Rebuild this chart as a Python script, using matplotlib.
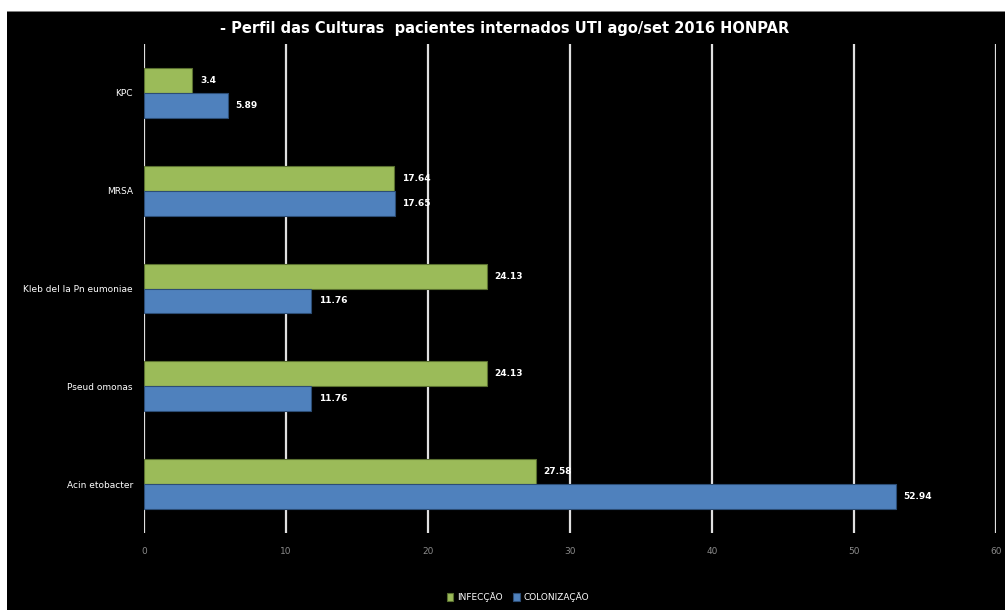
import matplotlib
matplotlib.use("Agg")
import matplotlib.pyplot as plt
import numpy as np
from matplotlib.patches import Rectangle

categories = ["KPC", "MRSA", "Klebdeila Pneumoniae", "Pseudomonas", "Acinetobacter"]
cat_labels = ["KPC", "MRSA", "Kleb del la Pn eumoniae", "Pseud omonas", "Acin etobacter"]
infeccao = [3.4, 17.64, 24.13, 24.13, 27.58]
colonizacao = [5.89, 17.65, 11.76, 11.76, 52.94]
infeccao_labels = ["3.4", "17.64", "24.13", "24.13", "27.58"]
colonizacao_labels = ["5.89", "17.65", "11.76", "11.76", "52.94"]
xticks = [0, 10, 20, 30, 40, 50, 60]

green = "#9BBB59"
blue = "#4F81BD"

fig = plt.figure(figsize=(10.05, 6.1), dpi=100)
fig.patch.set_facecolor("white")

# black chart background (separate axes underneath)
bg = fig.add_axes([0, 0, 1, 1], zorder=-5)
bg.set_xlim(0, 1005)
bg.set_ylim(610, 0)
bg.axis("off")
bg.add_patch(Rectangle((7, 12), 1005 - 7, 610 - 12, facecolor="black", edgecolor="none"))
bg.add_patch(Rectangle((7, 10.5), 1005 - 7, 1.5, facecolor="#808080", edgecolor="none"))

ax = fig.add_axes([144/1005, 1 - 533/610, (996 - 144)/1005, (533 - 44)/610], zorder=2)
ax.set_facecolor("black")

y = np.arange(len(categories))
h = 0.255
ax.barh(y - h/2, infeccao, height=h, color=green, edgecolor="#5a7030", linewidth=0.8, zorder=3, label="INFECÇÃO")
ax.barh(y + h/2, colonizacao, height=h, color=blue, edgecolor="#2c4d75", linewidth=0.8, zorder=3, label="COLONIZAÇÃO")

for yi, v, s in zip(y, infeccao, infeccao_labels):
    ax.text(v + 0.55, yi - h/2, s, color="white", fontsize=6.5, fontweight="bold", va="center", ha="left", zorder=4)
for yi, v, s in zip(y, colonizacao, colonizacao_labels):
    ax.text(v + 0.55, yi + h/2, s, color="white", fontsize=6.5, fontweight="bold", va="center", ha="left", zorder=4)

ax.set_xlim(0, 60)
ax.set_ylim(4.5, -0.5)
ax.set_xticks(xticks)
ax.set_xticklabels([str(t) for t in xticks], color="#8a8a8a", fontsize=6.5)
ax.set_yticks(y)
ax.set_yticklabels(cat_labels, color="white", fontsize=6.5)
ax.tick_params(axis="both", length=0, pad=8)
ax.tick_params(axis="x", pad=10)
ax.grid(axis="x", color="#e0e0e0", linewidth=1.6, zorder=1)
for sp in ax.spines.values():
    sp.set_visible(False)

fig.text(505/1005, 1 - 28/610, "- Perfil das Culturas  pacientes internados UTI ago/set 2016 HONPAR",
         color="white", fontsize=10.5, fontweight="bold", ha="center", va="center")

leg = fig.legend(loc="center", bbox_to_anchor=(518/1005, 1 - 597/610), ncol=2, frameon=False,
                 fontsize=6.5, labelcolor="white", handlelength=0.7, handleheight=0.9,
                 handletextpad=0.4, columnspacing=1.2)

fig.savefig("out.png", dpi=100, facecolor=fig.get_facecolor())
